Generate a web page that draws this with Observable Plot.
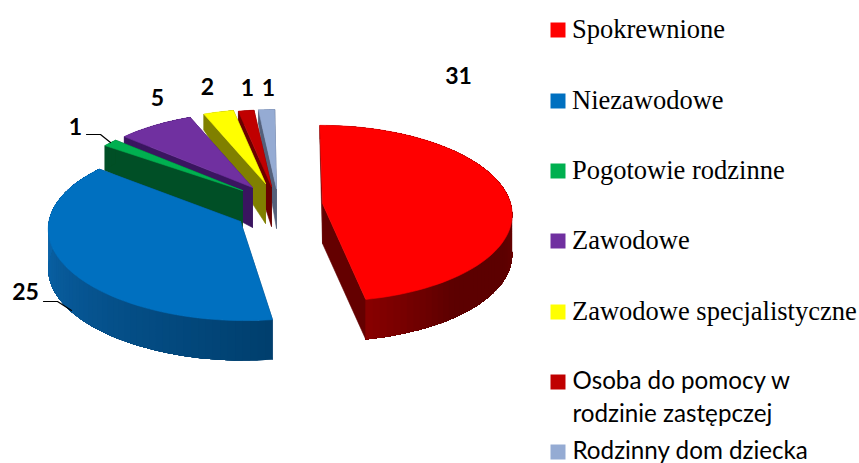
<!DOCTYPE html>
<html>
<head>
<meta charset="utf-8">
<script src="https://cdn.jsdelivr.net/npm/d3@7"></script>
<script src="https://cdn.jsdelivr.net/npm/@observablehq/plot@0.6"></script>
<style>html,body{margin:0;padding:0;background:#fff}svg{display:block}</style>
</head>
<body>
<div id="chart"></div>
<script>
// DATA
const categories = ["Spokrewnione","Niezawodowe","Pogotowie rodzinne","Zawodowe","Zawodowe specjalistyczne","Osoba do pomocy w\nrodzinie zastępczej","Rodzinny dom dziecka"];
const values = [31,25,1,5,2,1,1];

// STYLE
const topColors  = ["#ff0000","#0070c0","#00b050","#7030a0","#ffff00","#c00000","#95abd3"];
const cutColors  = ["#640000","#07406e","#004f26","#3a1560","#808000","#6a0000","#54607a"];
const wallStops  = [["#700000","#5c0000","#5c0000","#8a0000"],["#003f6e","#05508a","#0a62a6","#0a68ae"],["#004f26"],["#3a1560"],["#808000"],["#6a0000"],["#54607a"]];

// LAYOUT of the exploded perspective pie (one entry per slice)
const W = 859, H = 463;
const apex  = [[322,203],[240,221],[242,190],[252,187],[265,183],[271,186],[276,188]];
const scale = [.99,1,.94,.95,.94,.97,1];
const shear = [-3,7.6,-2,-2,-2,-2,-2];
const lift  = [0,6,0,0,0,0,0];
const A = 190, B = 87.8, Q = 0.112;
const depth = v => 40 - 26*Math.max(0,v);

const arcs = d3.pie().sort(null).startAngle(0).endAngle(2*Math.PI)(values);
const proj = (i,th) => {
  const u = Math.sin(th), v = Math.cos(th), w = 1 + Q*v, k = scale[i];
  const x = apex[i][0] + k*(A*u + shear[i]*v)/w;
  const y = apex[i][1] + k*(lift[i]*u - B*v)/w;
  return {x, y, yb: y + depth(v)};
};

// polygons, painted far to near
const faces = [];
let id = 0;
const addFace = (pts,color,sw) => { id++; [...pts,pts[0]].forEach(p => faces.push({x:p[0],y:p[1],id,color,sw})); };
for (const i of [6,5,4,3,2,1,0]) {
  const a = arcs[i];
  const n = Math.max(2, Math.round((a.endAngle-a.startAngle)/(Math.PI/90)));
  const rim = d3.range(n+1).map(j => proj(i, a.startAngle + (a.endAngle-a.startAngle)*j/n));
  const [ax,ay] = apex[i];
  const dA = depth(0);
  const first = rim[0], last = rim[n];
  addFace([[ax,ay],[last.x,last.y],[last.x,last.yb],[ax,ay+dA]], cutColors[i], 0.6);
  addFace([[ax,ay],[first.x,first.y],[first.x,first.yb],[ax,ay+dA]], cutColors[i], 0.6);
  const ramp = d3.piecewise(d3.interpolateRgb, wallStops[i].length>1 ? wallStops[i] : [wallStops[i][0],wallStops[i][0]]);
  // each shading band runs to the end of the wall and the next band paints over it, so no seams show
  for (let j=0;j<n;j++) {
    const t = i===0 ? (j/n<.5 ? 0 : (j/n-.5)*2) : j/n;
    const tail = rim.slice(j);
    addFace([...tail.map(p=>[p.x,p.y]),...tail.slice().reverse().map(p=>[p.x,p.yb])], d3.color(ramp(t)).formatHex(), 0);
  }
  addFace([[ax,ay],...rim.map(p=>[p.x,p.y])], topColors[i], 0.6);
}

// value labels and leaders
const valueLabels = values.map((v,i)=>({v:String(v),x:[458,25,75,157,207,247,268][i],y:[76,292,127,98,87,88,88][i]}));
const leaders = [
  {l:"a",x:86,y:134},{l:"a",x:100,y:134},{l:"a",x:110,y:142},
  {l:"b",x:43,y:301},{l:"b",x:57,y:301},{l:"b",x:71,y:310}
];

// legend rows
const legendY = [29.5,100.5,170.5,240.5,311.5,381.5,451.5];
const legend = categories.map((c,i)=>({c,color:topColors[i],y:legendY[i]}));
const serifRows = legend.slice(0,5);
const sansRows = legend.slice(5);

const plot = Plot.plot({
  width:W, height:H, margin:0,
  x:{domain:[0,W],range:[0,W],axis:null},
  y:{domain:[0,H],range:[0,H],axis:null},
  color:{type:"identity"},
  style:{background:"#fff"},
  marks:[
    Plot.line(faces,{x:"x",y:"y",z:"id",fill:"color",stroke:"color",strokeWidth:"sw",curve:"linear"}),
    Plot.line(leaders,{x:"x",y:"y",z:"l",stroke:"#000",strokeWidth:1.2}),
    Plot.text(valueLabels,{x:"x",y:"y",text:"v",fontFamily:"Lato",fontWeight:"bold",fontSize:23,fill:"#000"}),
    Plot.dot(legend,{x:()=>557.5,y:"y",symbol:"square",r:8.46,fill:"color",stroke:"none"}),
    Plot.text(serifRows,{x:()=>571.5,y:"y",text:"c",textAnchor:"start",fontFamily:"Liberation Serif",fontSize:26.5,fill:"#000"}),
    Plot.text(sansRows,{x:()=>572,y:d=>d.c.includes("\n")?d.y+13:d.y-3.5,text:"c",textAnchor:"start",lineHeight:1.35,fontFamily:"Lato",fontSize:24.2,fill:"#000"})
  ]
});
document.getElementById("chart").append(plot);
</script>
</body>
</html>
